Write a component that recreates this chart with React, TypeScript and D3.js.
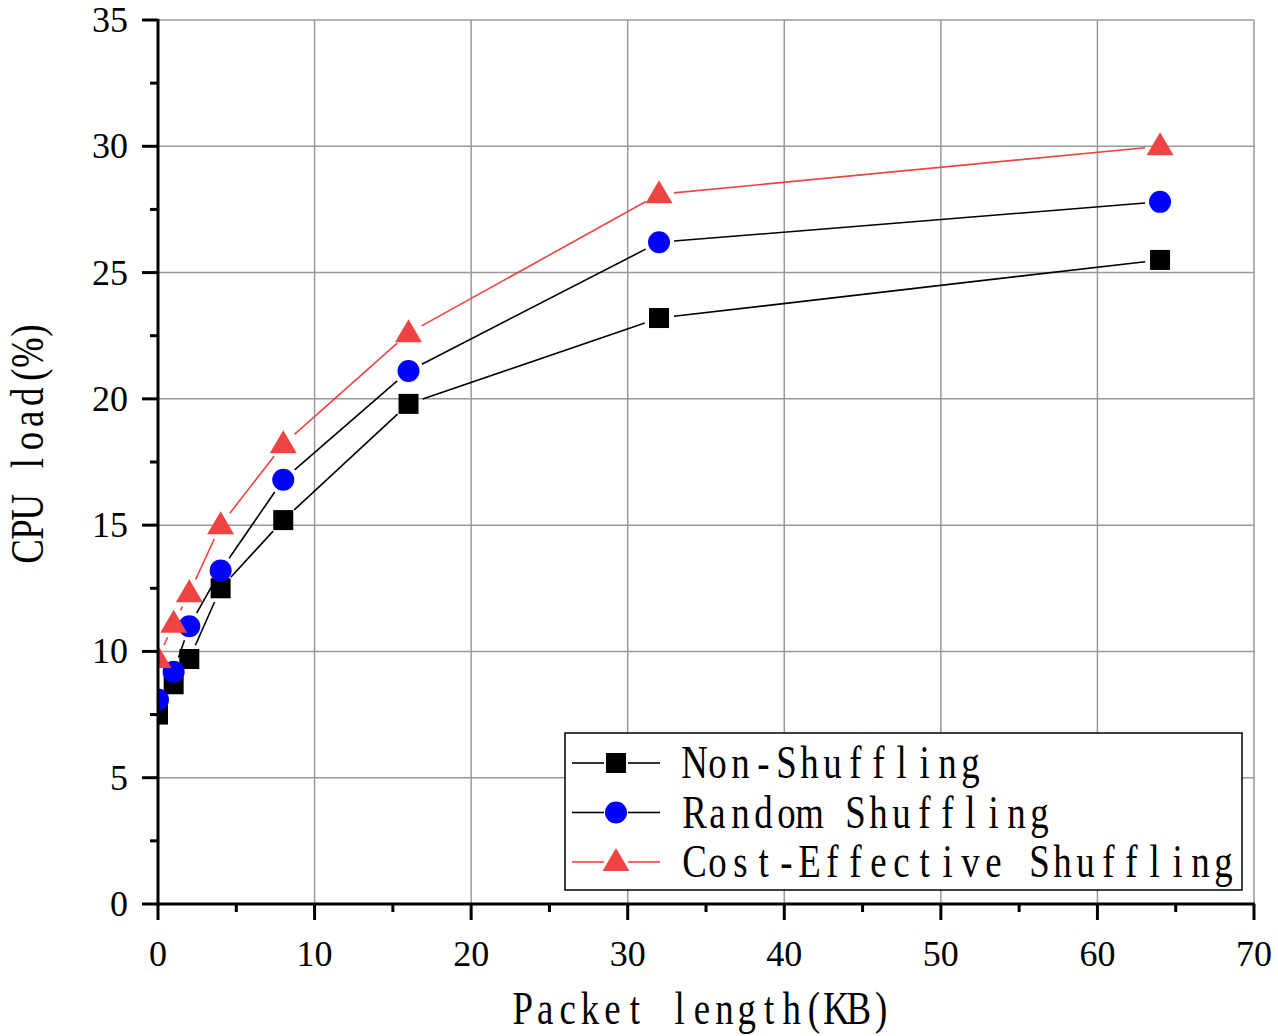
import React, { useRef, useEffect } from "react";
import * as d3 from "d3";

// packet length (KB) and CPU load (%) per scheme
const packetSizes = [0, 1, 2, 4, 8, 16, 32, 64];
const nonShuffling = [7.5, 8.7, 9.7, 12.5, 15.2, 19.8, 23.2, 25.5];
const randomShuffling = [8.1, 9.2, 11.0, 13.2, 16.8, 21.1, 26.2, 27.8];
const costEffective = [9.7, 11.1, 12.3, 15.0, 18.2, 22.6, 28.1, 30.0];

const xTicks = [0, 10, 20, 30, 40, 50, 60, 70];
const yTicks = [0, 5, 10, 15, 20, 25, 30, 35];

const seriesNames = ["Non-Shuffling", "Random Shuffling", "Cost-Effective Shuffling"];

type Marker = "square" | "circle" | "triangle";
type G = d3.Selection<SVGGElement, unknown, null, undefined>;

const series: { name: string; values: number[]; marker: Marker; fill: string; line: string }[] = [
  { name: seriesNames[0], values: nonShuffling, marker: "square", fill: "#000000", line: "#000000" },
  { name: seriesNames[1], values: randomShuffling, marker: "circle", fill: "#0000ff", line: "#000000" },
  { name: seriesNames[2], values: costEffective, marker: "triangle", fill: "#f04343", line: "#f04343" },
];

const serif = "'Liberation Serif', 'Times New Roman', serif";

// serif glyphs laid out on a fixed-width grid, squeezed horizontally
const monoText = (parent: G, str: string, x0: number, y: number, cell = 23, size = 46, sx = 0.8) => {
  const g = parent.append("g").attr("transform", `translate(${x0},${y}) scale(${sx},1)`);
  const xs = str.split("").map((_, i) => ((i + 0.5) * cell) / sx);
  g.append("text")
    .attr("x", xs.join(" "))
    .attr("y", 0)
    .attr("text-anchor", "middle")
    .attr("font-family", serif)
    .attr("font-size", size)
    .attr("fill", "#000")
    .style("white-space", "pre")
    .text(str);
  return g;
};

const App: React.FC = () => {
  const svgRef = useRef<SVGSVGElement | null>(null);

  const width = 1278;
  const height = 1036;
  const left = 158;
  const right = 1254;
  const top = 20;
  const bottom = 904;

  const xScale = d3.scaleLinear().domain([0, 70]).range([left, right]);
  const yScale = d3.scaleLinear().domain([0, 35]).range([bottom, top]);

  useEffect(() => {
    if (!svgRef.current) return;
    const svg = d3.select(svgRef.current);
    svg.selectAll("*").remove();
    const root = svg.append("g") as unknown as G;

    // grid
    root.append("g").selectAll("line").data(xTicks.slice(1)).enter().append("line")
      .attr("x1", (d) => xScale(d)).attr("x2", (d) => xScale(d))
      .attr("y1", top).attr("y2", bottom)
      .attr("stroke", "#999").attr("stroke-width", 1.5);
    root.append("g").selectAll("line").data(yTicks.slice(1)).enter().append("line")
      .attr("y1", (d) => yScale(d)).attr("y2", (d) => yScale(d))
      .attr("x1", left).attr("x2", right)
      .attr("stroke", "#999").attr("stroke-width", 1.5);

    const clip = svg.append("defs").append("clipPath").attr("id", "plot-clip");
    clip.append("rect").attr("x", left).attr("y", top - 20).attr("width", right - left + 20).attr("height", bottom - top + 20);

    const drawMarker = (g: G, m: Marker, cx: number, cy: number, fill: string) => {
      if (m === "square") {
        g.append("rect").attr("x", cx - 10).attr("y", cy - 10).attr("width", 20).attr("height", 20).attr("fill", fill);
      } else if (m === "circle") {
        g.append("circle").attr("cx", cx).attr("cy", cy).attr("r", 11).attr("fill", fill);
      } else {
        g.append("path")
          .attr("d", `M${cx},${cy - 14} L${cx + 13.5},${cy + 9} L${cx - 13.5},${cy + 9} Z`)
          .attr("fill", fill);
      }
    };

    // shortened segment so the line stops before each marker
    const gap = 15;
    const segment = (g: G, x1: number, y1: number, x2: number, y2: number, color: string) => {
      const dx = x2 - x1;
      const dy = y2 - y1;
      const len = Math.sqrt(dx * dx + dy * dy);
      if (len <= gap * 2) return;
      const ux = dx / len;
      const uy = dy / len;
      g.append("line")
        .attr("x1", x1 + ux * gap).attr("y1", y1 + uy * gap)
        .attr("x2", x2 - ux * gap).attr("y2", y2 - uy * gap)
        .attr("stroke", color).attr("stroke-width", 1.6);
    };

    const plot = root.append("g").attr("clip-path", "url(#plot-clip)");
    series.forEach((s) => {
      const g = plot.append("g");
      for (let i = 0; i < packetSizes.length - 1; i++) {
        segment(g, xScale(packetSizes[i]), yScale(s.values[i]), xScale(packetSizes[i + 1]), yScale(s.values[i + 1]), s.line);
      }
    });
    series.forEach((s) => {
      const g = plot.append("g");
      packetSizes.forEach((p, i) => drawMarker(g, s.marker, xScale(p), yScale(s.values[i]), s.fill));
    });

    // axes
    const axes = root.append("g").attr("stroke", "#000");
    axes.append("line").attr("x1", left).attr("x2", left).attr("y1", top - 1).attr("y2", bottom + 1.5).attr("stroke-width", 3);
    axes.append("line").attr("x1", left - 1.5).attr("x2", right + 1).attr("y1", bottom).attr("y2", bottom).attr("stroke-width", 3);

    xTicks.forEach((t) => {
      axes.append("line").attr("x1", xScale(t)).attr("x2", xScale(t)).attr("y1", bottom).attr("y2", bottom + 16).attr("stroke-width", 3);
      if (t < 70) {
        const m = t + 5;
        axes.append("line").attr("x1", xScale(m)).attr("x2", xScale(m)).attr("y1", bottom).attr("y2", bottom + 8).attr("stroke-width", 3);
      }
      root.append("text").attr("x", xScale(t)).attr("y", 966).attr("text-anchor", "middle")
        .attr("font-family", serif).attr("font-size", 36).attr("fill", "#000").text(String(t));
    });
    yTicks.forEach((t) => {
      axes.append("line").attr("x1", left - 16).attr("x2", left).attr("y1", yScale(t)).attr("y2", yScale(t)).attr("stroke-width", 3);
      if (t < 35) {
        const m = t + 2.5;
        axes.append("line").attr("x1", left - 8).attr("x2", left).attr("y1", yScale(m)).attr("y2", yScale(m)).attr("stroke-width", 3);
      }
      root.append("text").attr("x", 128).attr("y", yScale(t) + 12).attr("text-anchor", "end")
        .attr("font-family", serif).attr("font-size", 36).attr("fill", "#000").text(String(t));
    });

    // axis titles
    const xTitle = "Packet length(KB)";
    monoText(root, xTitle, 702 - (xTitle.length * 22.4) / 2, 1024, 22.4);
    const yTitle = "CPU load(%)";
    const yg = root.append("g").attr("transform", "translate(43,441) rotate(-90)") as unknown as G;
    monoText(yg, yTitle, -(yTitle.length * 22.1) / 2, 0, 22.1);

    // legend
    const legend = root.append("g");
    legend.append("rect").attr("x", 565).attr("y", 733).attr("width", 677).attr("height", 157)
      .attr("fill", "#fff").attr("stroke", "#000").attr("stroke-width", 1.5);
    series.forEach((s, i) => {
      const cy = 763 + i * 49.5;
      const g = legend.append("g");
      g.append("line").attr("x1", 572).attr("x2", 604).attr("y1", cy).attr("y2", cy).attr("stroke", s.line).attr("stroke-width", 1.6);
      g.append("line").attr("x1", 628).attr("x2", 660).attr("y1", cy).attr("y2", cy).attr("stroke", s.line).attr("stroke-width", 1.6);
      drawMarker(g, s.marker, 616, cy, s.fill);
      monoText(g, s.name, 683, cy + 15, 23);
    });
  }, []);

  return (
    <svg ref={svgRef} width={width} height={height}
      style={{ display: "block", position: "absolute", left: 0, top: 0, background: "#fff" }} />
  );
};

export default App;
